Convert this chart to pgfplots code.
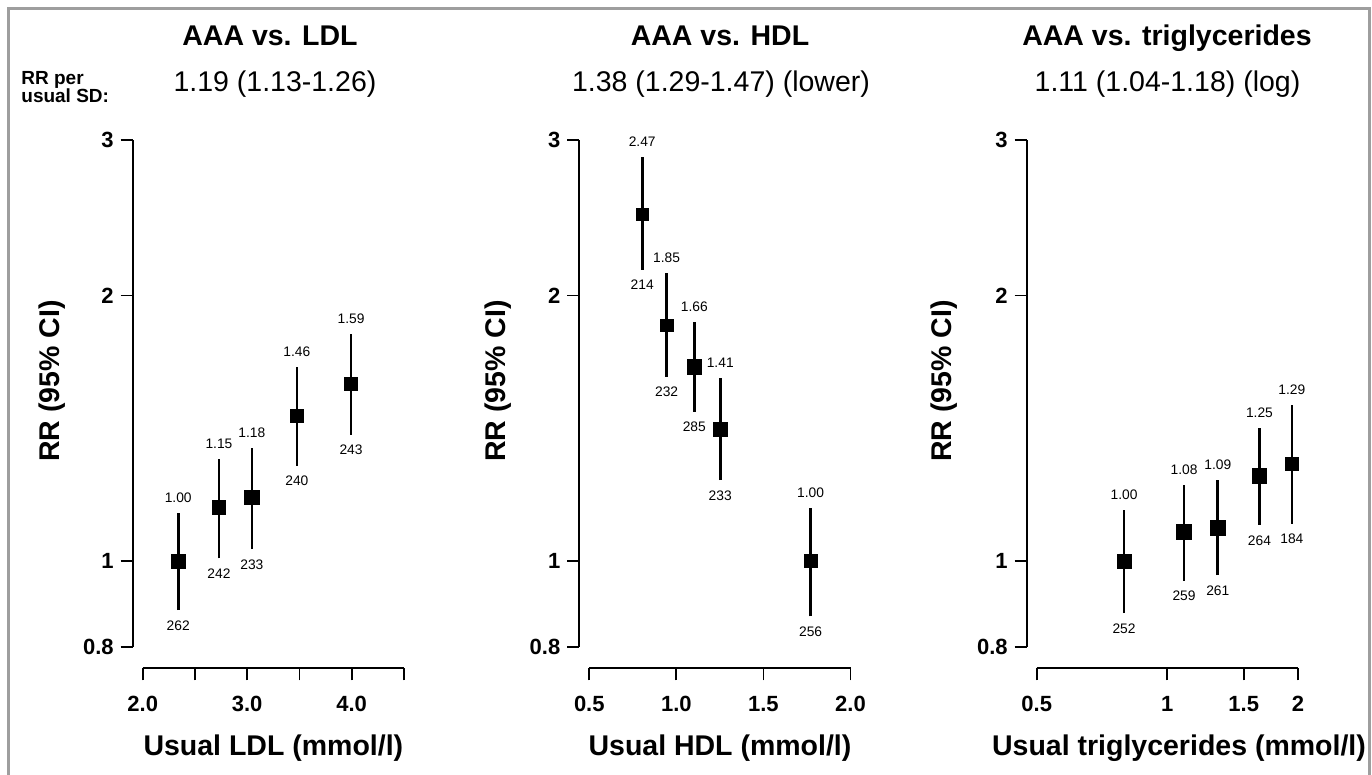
\documentclass[border=0pt]{standalone}
\usepackage{pgfplots}
\pgfplotsset{compat=1.18}
\usepackage{pgfplotstable}
\usepackage{fontspec}
\setmainfont{Liberation Sans}

\definecolor{framegray}{RGB}{158,158,158}

% x = usual level, rr = relative risk, lo/hi = 95% CI, n = cases, s = half box side (pt)
\pgfplotstableread{
x     rr    lo     hi     n    s
2.34  1.00  0.880  1.133  262  3.45
2.73  1.15  1.007  1.305  242  3.35
3.045 1.18  1.032  1.342  233  3.55
3.476 1.46  1.282  1.661  240  3.25
3.994 1.59  1.390  1.809  243  3.25
}\ldl
% CI segments, nan rows break the line
\pgfplotstableread{
x     y
2.34  0.880
2.34  1.133
nan   nan
2.73  1.007
2.73  1.305
nan   nan
3.045 1.032
3.045 1.342
nan   nan
3.476 1.282
3.476 1.661
nan   nan
3.994 1.390
3.994 1.809
}\ldlci

\pgfplotstableread{
x     rr    lo     hi     n    s
0.804 2.47  2.138  2.870  214  3.0
0.944 1.85  1.618  2.120  232  3.2
1.103 1.66  1.477  1.868  285  3.65
1.252 1.41  1.235  1.614  233  3.4
1.771 1.00  0.866  1.149  256  3.15
}\hdl
\pgfplotstableread{
x     y
0.804 2.138
0.804 2.870
nan   nan
0.944 1.618
0.944 2.120
nan   nan
1.103 1.477
1.103 1.868
nan   nan
1.252 1.235
1.252 1.614
nan   nan
1.771 0.866
1.771 1.149
}\hdlci

\pgfplotstableread{
x     rr    lo     hi     n    s
0.795 1.00  0.873  1.142  252  3.5
1.093 1.08  0.950  1.220  259  3.65
1.307 1.09  0.964  1.235  261  3.8
1.631 1.25  1.099  1.414  264  3.65
1.937 1.29  1.103  1.503  184  3.25
}\tg
\pgfplotstableread{
x     y
0.795 0.873
0.795 1.142
nan   nan
1.093 0.950
1.093 1.220
nan   nan
1.307 0.964
1.307 1.235
nan   nan
1.631 1.099
1.631 1.414
nan   nan
1.937 1.103
1.937 1.503
}\tgci

\newcommand{\lblfont}{\fontsize{6.9}{7.5}\selectfont}
\newcommand{\tickfont}{\fontsize{11}{13}\selectfont\bfseries}

\pgfplotsset{
  cibar/.style={black, line width=1.35pt, mark=none, unbounded coords=jump},
  boxes/.style={
    scatter, only marks, mark=square*, point meta=explicit,
    scatter/use mapped color={draw=black, fill=black},
    visualization depends on={\thisrow{s} \as \msz},
    scatter/@pre marker code/.append style={/tikz/mark size=\msz pt},
  },
  toplbl/.style={
    only marks, mark=none, nodes near coords, point meta=explicit symbolic,
    every node near coord/.append style={font=\lblfont, inner sep=0pt, anchor=south, yshift=5pt},
  },
  botlbl/.style={
    only marks, mark=none, nodes near coords, point meta=explicit symbolic,
    every node near coord/.append style={font=\lblfont, inner sep=0pt, anchor=north, yshift=-5pt},
  },
}

\begin{document}
\begin{tikzpicture}
\useasboundingbox (0,0) rectangle (686pt,387.5pt);
\draw[framegray, line width=1.5pt] (4.25pt,-6pt) rectangle (684.5pt,383.25pt);

% titles
\node[anchor=base, font=\fontsize{14.25}{16}\selectfont\bfseries] at (135pt,364.5pt) {AAA vs. LDL};
\node[anchor=base, font=\fontsize{14.25}{16}\selectfont\bfseries] at (360pt,364.5pt) {AAA vs. HDL};
\node[anchor=base, font=\fontsize{14.25}{16}\selectfont\bfseries] at (583.5pt,364.5pt) {AAA vs. triglycerides};
\node[anchor=base, font=\fontsize{14.25}{16}\selectfont] at (137.5pt,341.5pt) {1.19 (1.13-1.26)};
\node[anchor=base, font=\fontsize{14.25}{16}\selectfont] at (360.5pt,341.5pt) {1.38 (1.29-1.47) (lower)};
\node[anchor=base, font=\fontsize{14.25}{16}\selectfont] at (583.75pt,341.5pt) {1.11 (1.04-1.18) (log)};
\node[anchor=north west, inner sep=0pt, align=left,
  font=\fontsize{9.5}{9}\selectfont\bfseries] at (10.5pt,352pt) {RR per\\usual SD:};

% y labels
\node[rotate=90, font=\fontsize{14.25}{16}\selectfont\bfseries] at (26pt,197pt) {RR (95\% CI)};
\node[rotate=90, font=\fontsize{14.25}{16}\selectfont\bfseries] at (249pt,197pt) {RR (95\% CI)};
\node[rotate=90, font=\fontsize{14.25}{16}\selectfont\bfseries] at (472pt,197pt) {RR (95\% CI)};
% x labels
\node[anchor=base, font=\fontsize{14.25}{16}\selectfont\bfseries] at (136.7pt,9.5pt) {Usual LDL (mmol/l)};
\node[anchor=base, font=\fontsize{14.25}{16}\selectfont\bfseries] at (360pt,9.5pt) {Usual HDL (mmol/l)};
\node[anchor=base, font=\fontsize{14.25}{16}\selectfont\bfseries] at (589.5pt,9.5pt) {Usual triglycerides (mmol/l)};

\begin{axis}[at={(71.35pt,64.15pt)}, anchor=south west,
  scale only axis, width=130.6pt, height=253.35pt,
  ymode=log, ymin=0.8, ymax=3,
  ytick={0.8,1,2,3}, yticklabels={0.8,1,2,3},
  xmin=2, xmax=4.5,
  xtick={2,2.5,3,3.5,4,4.5}, xticklabels={2.0,,3.0,,4.0,},
  xminorticks=false, yminorticks=false,
  axis x line*=bottom, axis y line*=left,
  axis x line shift=10.8pt, axis y line shift=5pt,
  tick align=outside, major tick length=6pt,
  axis line style={line width=0.9pt, black},
  tick style={black, line width=0.9pt},
  ticklabel style={font=\tickfont},
  xticklabel style={yshift=-4.5pt},
  clip=false]
  \addplot[cibar] table[x=x, y=y] {\ldlci};
  \addplot[boxes] table[x=x, y=rr, meta=rr] {\ldl};
  \addplot[toplbl] table[x=x, y=hi, meta=rr] {\ldl};
  \addplot[botlbl] table[x=x, y=lo, meta=n] {\ldl};
\end{axis}

\begin{axis}[at={(294.65pt,64.15pt)}, anchor=south west,
  scale only axis, width=130.6pt, height=253.35pt,
  ymode=log, ymin=0.8, ymax=3,
  ytick={0.8,1,2,3}, yticklabels={0.8,1,2,3},
  xmin=0.5, xmax=2,
  xtick={0.5,1,1.5,2}, xticklabels={0.5,1.0,1.5,2.0},
  xminorticks=false, yminorticks=false,
  axis x line*=bottom, axis y line*=left,
  axis x line shift=10.8pt, axis y line shift=5pt,
  tick align=outside, major tick length=6pt,
  axis line style={line width=0.9pt, black},
  tick style={black, line width=0.9pt},
  ticklabel style={font=\tickfont},
  xticklabel style={yshift=-4.5pt},
  clip=false]
  \addplot[cibar] table[x=x, y=y] {\hdlci};
  \addplot[boxes] table[x=x, y=rr, meta=rr] {\hdl};
  \addplot[toplbl] table[x=x, y=hi, meta=rr] {\hdl};
  \addplot[botlbl] table[x=x, y=lo, meta=n] {\hdl};
\end{axis}

\begin{axis}[at={(518.35pt,64.15pt)}, anchor=south west,
  scale only axis, width=130.6pt, height=253.35pt,
  ymode=log, ymin=0.8, ymax=3,
  ytick={0.8,1,2,3}, yticklabels={0.8,1,2,3},
  xmode=log, xmin=0.5, xmax=2,
  xtick={0.5,1,1.5,2}, xticklabels={0.5,1,1.5,2},
  xminorticks=false, yminorticks=false,
  axis x line*=bottom, axis y line*=left,
  axis x line shift=10.8pt, axis y line shift=5pt,
  tick align=outside, major tick length=6pt,
  axis line style={line width=0.9pt, black},
  tick style={black, line width=0.9pt},
  ticklabel style={font=\tickfont},
  xticklabel style={yshift=-4.5pt},
  clip=false]
  \addplot[cibar] table[x=x, y=y] {\tgci};
  \addplot[boxes] table[x=x, y=rr, meta=rr] {\tg};
  \addplot[toplbl] table[x=x, y=hi, meta=rr] {\tg};
  \addplot[botlbl] table[x=x, y=lo, meta=n] {\tg};
\end{axis}
\end{tikzpicture}
\end{document}
